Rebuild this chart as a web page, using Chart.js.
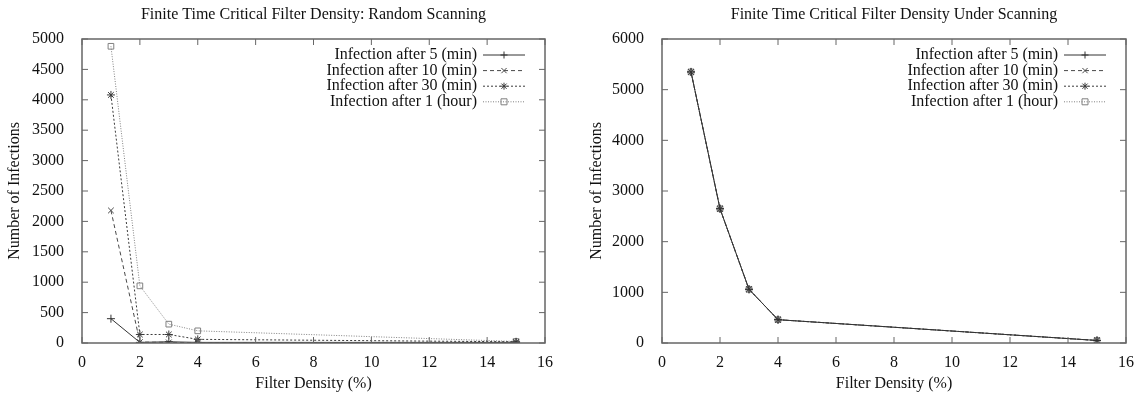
<!DOCTYPE html>
<html>
<head>
<meta charset="utf-8">
<script src="https://cdn.jsdelivr.net/npm/chart.js@4.4.1/dist/chart.umd.min.js"></script>
<style>
    html, body { margin: 0; padding: 0; background: #fff; }
    .panel { position: absolute; top: 0; width: 568px; height: 394px; }
</style>
</head>
<body>
<div class="panel" style="left:0"><canvas id="randomChart" width="568" height="394"></canvas></div>
<div class="panel" style="left:568px"><canvas id="underChart" width="568" height="394"></canvas></div>
<script>
// filter densities (%) that were simulated
const densities = [1, 2, 3, 4, 15];
const seriesLabels = [
    'Infection after 5 (min)',
    'Infection after 10 (min)',
    'Infection after 30 (min)',
    'Infection after 1 (hour)'
];

// left panel: random scanning
const randomFiveMin = [400, 10, 20, 10, 10];
const randomTenMin = [2180, 15, 10, 5, 5];
const randomThirtyMin = [4080, 140, 140, 60, 20];
const randomOneHour = [4880, 940, 310, 200, 25];

// right panel: under scanning (all four curves sit on top of each other)
const underFiveMin = [5350, 2650, 1060, 460, 50];
const underTenMin = [5350, 2650, 1060, 460, 50];
const underThirtyMin = [5350, 2650, 1060, 460, 50];
const underOneHour = [5350, 2650, 1060, 460, 50];

const xTicks = [0, 2, 4, 6, 8, 10, 12, 14, 16];

const FONT = '"Liberation Serif", "DejaVu Serif", serif';
const lineStyles = [
    { color: '#333', dash: [], point: 'cross' },
    { color: '#484848', dash: [4, 3], point: 'crossRot' },
    { color: '#3a3a3a', dash: [2, 2], point: 'star' },
    { color: '#808080', dash: [1, 1.5], point: 'rect' }
];

function drawMarker(ctx, kind, x, y, r) {
    ctx.beginPath();
    const d = r * 0.75;
    if (kind === 'cross' || kind === 'star') {
        ctx.moveTo(x - r, y); ctx.lineTo(x + r, y);
        ctx.moveTo(x, y - r); ctx.lineTo(x, y + r);
    }
    if (kind === 'crossRot' || kind === 'star') {
        ctx.moveTo(x - d, y - d); ctx.lineTo(x + d, y + d);
        ctx.moveTo(x - d, y + d); ctx.lineTo(x + d, y - d);
    }
    if (kind === 'rect') {
        ctx.rect(x - 3, y - 3, 6, 6);
    }
    ctx.stroke();
}

// gnuplot look: box frame, inward ticks, title over the plot, legend inside
const gnuplotFrame = {
    id: 'gnuplotFrame',
    afterDraw(chart, args, opts) {
        const { ctx, chartArea: a } = chart;
        const xs = chart.scales.x, ys = chart.scales.y;
        ctx.save();
        ctx.strokeStyle = '#666';
        ctx.lineWidth = 1.5;
        ctx.setLineDash([]);
        ctx.strokeRect(a.left, a.top, a.right - a.left, a.bottom - a.top);
        ctx.lineWidth = 1;
        ctx.beginPath();
        xs.ticks.forEach(t => {
            const px = xs.getPixelForValue(t.value);
            ctx.moveTo(px, a.bottom); ctx.lineTo(px, a.bottom - 6);
            ctx.moveTo(px, a.top); ctx.lineTo(px, a.top + 6);
        });
        ys.ticks.forEach(t => {
            const py = ys.getPixelForValue(t.value);
            ctx.moveTo(a.left, py); ctx.lineTo(a.left + 6, py);
            ctx.moveTo(a.right, py); ctx.lineTo(a.right - 6, py);
        });
        ctx.stroke();

        // title
        ctx.fillStyle = '#111';
        ctx.font = '16px ' + FONT;
        ctx.textAlign = 'center';
        ctx.textBaseline = 'middle';
        ctx.fillText(opts.title, (a.left + a.right) / 2, 15);

        // legend
        ctx.textAlign = 'right';
        chart.data.datasets.forEach((ds, i) => {
            const y = a.top + 16 + i * 15.6;
            const st = lineStyles[i];
            ctx.fillStyle = '#111';
            ctx.fillText(ds.label, a.right - 68, y);
            ctx.strokeStyle = st.color;
            ctx.setLineDash(st.dash);
            ctx.beginPath();
            ctx.moveTo(a.right - 62, y); ctx.lineTo(a.right - 20, y);
            ctx.stroke();
            ctx.setLineDash([]);
            drawMarker(ctx, st.point, a.right - 41, y, 3.5);
        });
        ctx.restore();
    }
};

function buildDatasets(seriesList) {
    return seriesList.map((values, i) => ({
        label: seriesLabels[i],
        data: densities.map((d, k) => ({ x: d, y: values[k] })),
        borderColor: lineStyles[i].color,
        borderDash: lineStyles[i].dash,
        borderWidth: 1,
        pointStyle: lineStyles[i].point,
        pointRadius: 4,
        pointBorderWidth: 1,
        pointBorderColor: lineStyles[i].color,
        pointBackgroundColor: 'rgba(0,0,0,0)',
        tension: 0,
        fill: false
    }));
}

function makeChart(canvasId, title, seriesList, yMax, yStep, padLeft, padRight, yWidth) {
    return new Chart(document.getElementById(canvasId), {
        type: 'line',
        data: { datasets: buildDatasets(seriesList) },
        plugins: [gnuplotFrame],
        options: {
            responsive: false,
            animation: false,
            layout: { padding: { top: 39, left: padLeft, right: padRight, bottom: 0 } },
            plugins: {
                legend: { display: false },
                tooltip: { enabled: false },
                gnuplotFrame: { title: title }
            },
            scales: {
                x: {
                    type: 'linear',
                    min: 0,
                    max: 16,
                    afterBuildTicks: s => { s.ticks = xTicks.map(v => ({ value: v })); },
                    grid: { display: false },
                    border: { display: false },
                    ticks: {
                        color: '#111', padding: 2, font: { family: FONT, size: 16 },
                        callback: v => String(v)
                    },
                    title: {
                        display: true,
                        text: 'Filter Density (%)',
                        color: '#111',
                        font: { family: FONT, size: 16 },
                        padding: { top: 0, bottom: 1 }
                    },
                    afterFit: s => { s.height = 51; }
                },
                y: {
                    min: 0,
                    max: yMax,
                    ticks: {
                        stepSize: yStep, color: '#111', padding: 10, font: { family: FONT, size: 16 },
                        callback: v => String(v)
                    },
                    grid: { display: false },
                    border: { display: false },
                    title: {
                        display: true,
                        text: 'Number of Infections',
                        color: '#111',
                        font: { family: FONT, size: 16 },
                        padding: { top: 5, bottom: 0 }
                    },
                    afterFit: s => { s.width = yWidth; }
                }
            }
        }
    });
}

makeChart('randomChart', 'Finite Time Critical Filter Density: Random Scanning',
    [randomFiveMin, randomTenMin, randomThirtyMin, randomOneHour], 5000, 500, 0, 23, 82);
makeChart('underChart', 'Finite Time Critical Filter Density Under Scanning',
    [underFiveMin, underTenMin, underThirtyMin, underOneHour], 6000, 1000, 14, 10, 80);
</script>
</body>
</html>
